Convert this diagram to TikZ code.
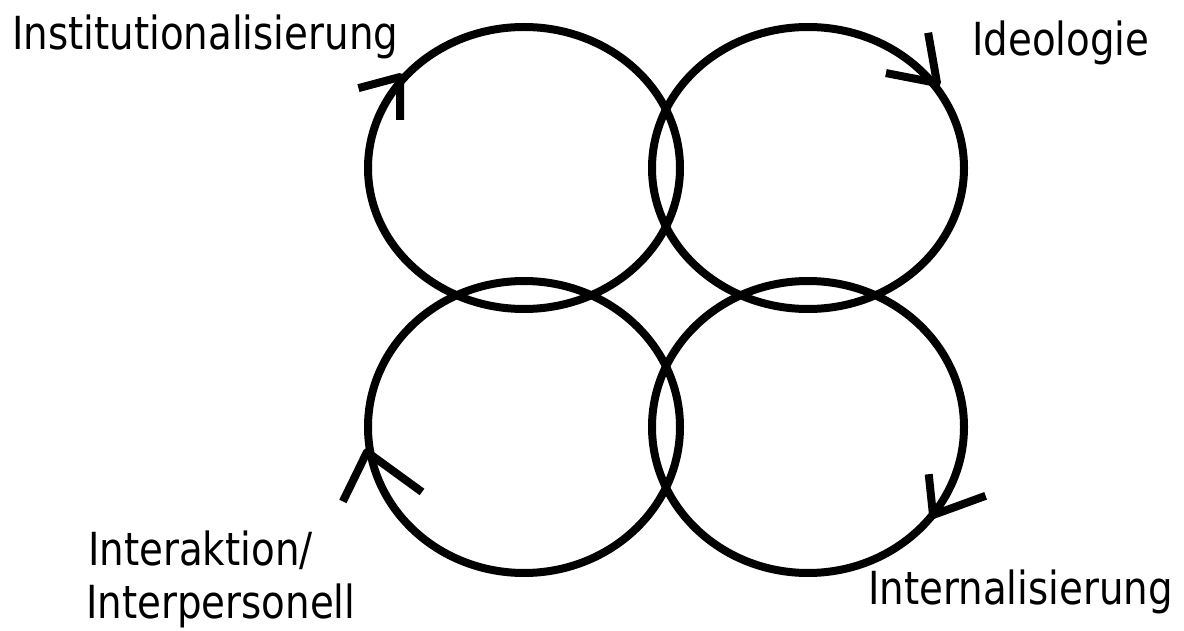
\documentclass[tikz,border=0pt]{standalone}
\usepackage{fontspec}
\setmainfont[FakeStretch=0.85]{DejaVu Sans}
\usetikzlibrary{shapes.geometric}

\begin{document}
\begin{tikzpicture}[x=1pt, y=1pt,
    ring/.style={draw, ellipse, line width=8pt, inner sep=0pt, minimum width=312pt},
    barb/.style={line width=8pt, line join=round},
    lbl/.style={inner sep=0pt, anchor=base west, font=\fontsize{45.6}{55}\selectfont}]
\useasboundingbox (0,0) rectangle (1184,630);

% the four rings
\node[ring, minimum height=282pt] (TL) at (524,462) {};
\node[ring, minimum height=282pt] (TR) at (808,462) {};
\node[ring, minimum height=292pt] (BL) at (524,203) {};
\node[ring, minimum height=292pt] (BR) at (808,203) {};

% open arrow heads, all clockwise
\coordinate (tipTL) at (400,553);
\coordinate (tipTR) at (937,547);
\coordinate (tipBL) at (367,178);
\coordinate (tipBR) at (933,115);
\draw[barb] (tipTL) +(270:43) -- (tipTL) -- +(195:43);
\draw[barb] (tipTR) +(100:51) -- (tipTR) -- +(169:52);
\draw[barb] (tipBL) +(244:55) -- (tipBL) -- +(324:68);
\draw[barb] (tipBR) +(96:41) -- (tipBR) -- +(20:56);

% labels
\node[lbl] (inst) at (12,580) {Institutionalisierung};
\node[lbl] (ideo) at (972,574) {Ideologie};
\node[lbl] (inter1) at (88,65) {Interaktion/};
\node[lbl] (inter2) at (86,12) {Interpersonell};
\node[lbl] (intern) at (868,26) {Internalisierung};
\end{tikzpicture}
\end{document}
